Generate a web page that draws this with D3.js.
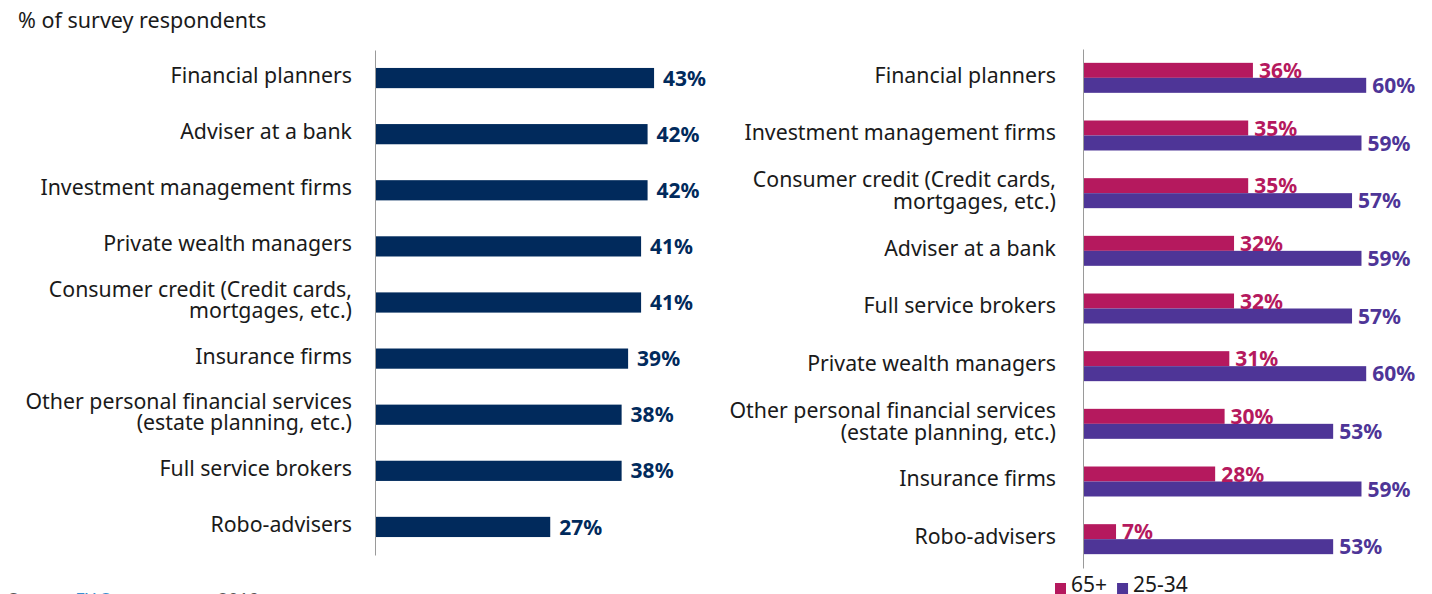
<!DOCTYPE html>
<html>
<head>
<meta charset="utf-8">
<script src="https://cdn.jsdelivr.net/npm/d3@7"></script>
<style>
  html, body { margin: 0; padding: 0; background: #fff; }
  svg { display: block; font-family: "Noto Sans", "Open Sans", sans-serif; }
</style>
</head>
<body>
<svg id="chart" width="1432" height="594"></svg>
<script>
// Left panel: all respondents, sorted
const leftCategories = [
  "Financial planners",
  "Adviser at a bank",
  "Investment management firms",
  "Private wealth managers",
  "Consumer credit (Credit cards,\nmortgages, etc.)",
  "Insurance firms",
  "Other personal financial services\n(estate planning, etc.)",
  "Full service brokers",
  "Robo-advisers"
];
const leftValues = [43, 42, 42, 41, 41, 39, 38, 38, 27];

// Right panel: by age group
const rightCategories = [
  "Financial planners",
  "Investment management firms",
  "Consumer credit (Credit cards,\nmortgages, etc.)",
  "Adviser at a bank",
  "Full service brokers",
  "Private wealth managers",
  "Other personal financial services\n(estate planning, etc.)",
  "Insurance firms",
  "Robo-advisers"
];
const seriesNames = ["65+", "25-34"];
const values65plus = [36, 35, 35, 32, 32, 31, 30, 28, 7];
const values25to34 = [60, 59, 57, 59, 57, 60, 53, 59, 53];

const colors = { navy: "#012a5c", pink: "#b5195e", purple: "#4e3597", axis: "#9a9a9a", text: "#1a1a1a" };

const svg = d3.select("#chart");

// Title
svg.append("text")
  .attr("x", 18).attr("y", 28)
  .attr("font-size", 21.5).attr("fill", colors.text)
  .text("% of survey respondents");

// Multi-line, right-aligned category labels
function drawCategoryLabels(g, cats, y, xRight) {
  const lineH = 21.5;
  g.selectAll("text.cat").data(cats).join("text")
    .attr("class", "cat")
    .attr("text-anchor", "end")
    .attr("font-size", 21.3)
    .attr("fill", colors.text)
    .each(function(d) {
      const lines = d.split("\n");
      const cy = y(d) + y.bandwidth() / 2 - 2.5;
      const top = cy - (lines.length - 1) * lineH / 2;
      d3.select(this).selectAll("tspan").data(lines).join("tspan")
        .attr("x", xRight)
        .attr("y", (l, i) => top + i * lineH)
        .attr("dy", "0.35em")
        .text(l => l);
    });
}

// ---------- Left panel ----------
const xL = d3.scaleLinear().domain([0, 50]).range([375, 375 + 50 * 6.49]);
const yL = d3.scaleBand().domain(leftCategories).range([50, 555])
  .paddingInner(0.64).paddingOuter(0.32);

const gL = svg.append("g");
gL.selectAll("rect").data(leftCategories).join("rect")
  .attr("x", xL(0))
  .attr("y", d => yL(d))
  .attr("width", (d, i) => xL(leftValues[i]) - xL(0))
  .attr("height", yL.bandwidth())
  .attr("fill", colors.navy);

gL.selectAll("text.val").data(leftCategories).join("text")
  .attr("class", "val")
  .attr("x", (d, i) => xL(leftValues[i]) + 9)
  .attr("y", d => yL(d) + yL.bandwidth() / 2)
  .attr("dy", "0.36em")
  .attr("font-size", 21).attr("font-weight", 700)
  .attr("fill", colors.navy)
  .text((d, i) => leftValues[i] + "%");

const axL = gL.append("g").attr("transform", `translate(${xL(0)},0)`)
  .call(d3.axisLeft(yL).tickSize(0).tickFormat(""));
axL.select(".domain").attr("stroke", colors.axis);

drawCategoryLabels(gL, leftCategories, yL, 352);

// ---------- Right panel ----------
const xR = d3.scaleLinear().domain([0, 50]).range([1083, 1083 + 50 * 4.72]);
const yR = d3.scaleBand().domain(rightCategories).range([49, 568])
  .paddingInner(0.48).paddingOuter(0.24);
const ySub = d3.scaleBand().domain(seriesNames).range([0, yR.bandwidth()]);
const seriesValues = { "65+": values65plus, "25-34": values25to34 };
const seriesColor = { "65+": colors.pink, "25-34": colors.purple };

const gR = svg.append("g");
const groups = gR.selectAll("g.grp").data(rightCategories).join("g")
  .attr("class", "grp")
  .attr("transform", d => `translate(0,${yR(d)})`);

groups.each(function(cat, i) {
  const g = d3.select(this);
  g.selectAll("rect").data(seriesNames).join("rect")
    .attr("x", xR(0))
    .attr("y", s => ySub(s))
    .attr("width", s => xR(seriesValues[s][i]) - xR(0))
    .attr("height", ySub.bandwidth())
    .attr("fill", s => seriesColor[s]);
  g.selectAll("text").data(seriesNames).join("text")
    .attr("x", s => xR(seriesValues[s][i]) + 6)
    .attr("y", s => ySub(s) + ySub.bandwidth() / 2)
    .attr("dy", "0.36em")
    .attr("font-size", 21).attr("font-weight", 700)
    .attr("fill", s => seriesColor[s])
    .text(s => seriesValues[s][i] + "%");
});

const axR = gR.append("g").attr("transform", `translate(${xR(0)},0)`)
  .call(d3.axisLeft(yR).tickSize(0).tickFormat(""));
axR.select(".domain").attr("stroke", colors.axis);

drawCategoryLabels(gR, rightCategories, yR, 1056);

// Legend
const legend = svg.append("g").attr("transform", "translate(1055,592)");
let lx = 0;
seriesNames.forEach(s => {
  legend.append("rect").attr("x", lx).attr("y", -9).attr("width", 11).attr("height", 11)
    .attr("fill", seriesColor[s]);
  const t = legend.append("text").attr("x", lx + 16).attr("y", 0)
    .attr("font-size", 21).attr("fill", colors.text).text(s);
  lx += 16 + t.node().getComputedTextLength() + 10;
});

// Source line (runs off the bottom edge)
const src = svg.append("text").attr("x", 8).attr("y", 606).attr("font-size", 18).attr("fill", "#555");
src.append("tspan").text("Source: ");
src.append("tspan").attr("fill", "#3a8fd0").text("EY Survey");
src.append("tspan").attr("x", 218).text("2019");
</script>
</body>
</html>
